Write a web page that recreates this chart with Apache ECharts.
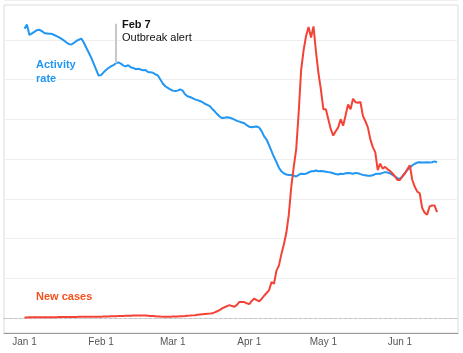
<!DOCTYPE html>
<html>
<head>
<meta charset="utf-8" />
<title>Activity rate and new cases</title>
<script src="https://cdn.jsdelivr.net/npm/echarts@6.0.0/dist/echarts.min.js"></script>
<style>
  html, body { margin: 0; padding: 0; background: #fff; }
  #chart { width: 463px; height: 353px; }
</style>
</head>
<body>
<div id="chart"></div>
<script type="text/javascript">
// day 0 = Jan 1 (2020), one value per day up to Jun 16
var tickDays = [0, 31, 60, 91, 121, 152];
var tickLabels = ['Jan 1', 'Feb 1', 'Mar 1', 'Apr 1', 'May 1', 'Jun 1'];

// activity rate (index)
var activity = [
  72.8, 73.8, 71.2, 71.6, 72.0, 72.4, 72.5, 72.2, 71.7, 71.6,
  71.5, 71.5, 71.2, 70.9, 70.6, 70.2, 69.8, 69.3, 68.9, 68.8,
  69.2, 69.7, 70.0, 70.3, 69.3, 68.0, 66.8, 65.5, 64.0, 62.5,
  61.0, 61.1, 61.8, 62.4, 62.9, 63.3, 63.6, 64.1, 64.3, 64.0,
  63.5, 63.3, 63.6, 63.1, 62.9, 62.6, 62.7, 62.5, 62.3, 62.4,
  61.9, 61.8, 61.7, 61.3, 61.0, 60.0, 59.0, 58.3, 57.9, 57.5,
  57.2, 57.1, 57.2, 57.5, 57.2, 56.3, 55.8, 55.6, 55.3, 55.0,
  54.8, 54.6, 54.3, 53.9, 53.6, 53.3, 52.6, 52.0, 51.3, 50.7,
  50.3, 50.4, 50.5, 50.4, 50.2, 49.9, 49.6, 49.4, 49.2, 49.0,
  48.5, 48.1, 48.0, 48.1, 48.2, 47.9, 47.0, 45.7, 44.9, 43.5,
  42.0, 40.5, 39.2, 37.8, 36.9, 36.4, 36.1, 36.0, 36.0, 35.8,
  35.6, 36.0, 36.3, 36.2, 36.3, 36.6, 36.9, 36.9, 37.1, 36.9,
  37.0, 36.9, 36.8, 36.7, 36.6, 36.4, 36.2, 36.1, 36.3, 36.2,
  36.4, 36.5, 36.4, 36.3, 36.5, 36.4, 36.2, 36.0, 35.9, 35.8,
  35.8, 35.9, 36.2, 36.3, 36.3, 36.5, 36.7, 36.6, 36.4, 36.0,
  35.6, 35.2, 35.0, 35.7, 36.5, 37.2, 37.8, 38.4, 38.8, 39.1,
  39.2, 39.1, 39.1, 39.2, 39.1, 39.2, 39.4, 39.2
];

// new cases per day
var newCases = [
  15, 15, 16, 16, 17, 17, 18, 18, 19, 19,
  20, 21, 22, 22, 23, 24, 25, 25, 26, 27,
  28, 28, 29, 30, 30, 31, 31, 32, 32, 33,
  33, 34, 36, 38, 40, 42, 44, 46, 48, 50,
  52, 54, 56, 58, 60, 62, 64, 66, 64, 60,
  56, 52, 48, 44, 40, 36, 34, 32, 32, 33,
  35, 37, 40, 43, 46, 50, 55, 60, 66, 72,
  80, 88, 95, 100, 105, 110, 117, 140, 170, 200,
  241, 270, 300, 323, 300, 281, 330, 405, 405, 400,
  370, 348, 430, 489, 450, 422, 480, 560, 629, 696,
  902, 862, 1193, 1317, 1607, 1850, 2144, 2600, 3300, 3800,
  4250, 5168, 6244, 6740, 7100, 7322, 7056, 7337, 6700, 6161,
  5747, 5250, 5250, 5000, 4750, 4589, 4700, 4795, 5001, 4837,
  5100, 5374, 5250, 5516, 5430, 5416, 5433, 5086, 4950, 4795,
  4500, 4298, 4174, 3719, 3883, 3759, 3801, 3740, 3700, 3635,
  3560, 3471, 3471, 3560, 3635, 3740, 3843, 3471, 3300, 3180,
  3138, 2765, 2650, 2601, 2807, 2830, 2832, 2666
];

// annotation
var alertDay = 37;
var alertTitle = 'Feb 7';
var alertText = 'Outbreak alert';

var blue = '#2196f3';
var red = '#f44336';
var font = '"Liberation Sans", Arial, sans-serif';

var activityData = activity.map(function(v, i) { return [i, v]; });
var casesData = newCases.map(function(v, i) { return [i, v]; });

// text label with a white box behind it, so grid lines stop at the text
function label(x, y, text, color, weight) {
    return {
        type: 'text', x: x, y: y, z: 10,
        style: {
            text: text, fill: color, font: weight + ' 11px ' + font,
            verticalAlign: 'middle', backgroundColor: '#fff', padding: [0, 1]
        }
    };
}

var myChart = echarts.init(document.getElementById('chart'));

myChart.setOption({
    animation: false,
    grid: [
        // frame + date axis
        { left: 4, right: 5, top: 5, bottom: 20, show: true, borderColor: '#dcdcdc', borderWidth: 1 },
        // plot area for the lines (zero at y=318)
        { left: 4, right: 5, top: -4, bottom: 35 }
    ],
    xAxis: [{
        type: 'value',
        gridIndex: 0,
        min: -8.3,
        max: 175.5,
        axisLine: { lineStyle: { color: '#999', width: 1 } },
        axisTick: { show: false },
        splitLine: { show: false },
        axisLabel: {
            customValues: tickDays,
            color: '#555',
            fontSize: 10,
            fontFamily: font,
            margin: 4,
            formatter: function(v) {
                return tickLabels[tickDays.indexOf(v)];
            }
        }
    }, {
        type: 'value',
        gridIndex: 1,
        min: -8.3,
        max: 175.5,
        z: 3,
        axisLine: { show: true, lineStyle: { color: '#c4c4c4', type: [3, 2], width: 1 } },
        axisTick: { show: false },
        axisLabel: { show: false },
        splitLine: { show: false }
    }],
    yAxis: [{
        type: 'value',
        gridIndex: 0,
        min: 0,
        max: 1,
        show: false
    }, {
        type: 'value',
        gridIndex: 1,
        min: 0,
        max: 8000,
        interval: 1000,
        axisLine: { show: false },
        axisTick: { show: false },
        axisLabel: { show: false },
        splitLine: { lineStyle: { color: '#efefef', width: 1 } }
    }, {
        type: 'value',
        gridIndex: 1,
        min: 0,
        max: 80,
        show: false
    }],
    graphic: [
        label(35, 65, 'Activity', blue, 'bold'),
        label(35, 78.5, 'rate', blue, 'bold'),
        label(35, 297, 'New cases', '#f4511e', 'bold'),
        label(121, 25, alertTitle, '#111', 'bold'),
        label(121, 37.5, alertText, '#111', 'normal')
    ],
    series: [{
        name: 'Activity rate',
        type: 'line',
        xAxisIndex: 1,
        yAxisIndex: 2,
        showSymbol: false,
        symbol: 'none',
        lineStyle: { color: blue, width: 2 },
        itemStyle: { color: blue },
        data: activityData,
        markLine: {
            silent: true,
            symbol: 'none',
            label: { show: false },
            lineStyle: { color: '#c8c8c8', width: 2, type: 'solid' },
            data: [[{ coord: [alertDay, activity[alertDay]] }, { coord: [alertDay, 74] }]]
        }
    }, {
        name: 'New cases',
        type: 'line',
        xAxisIndex: 1,
        yAxisIndex: 1,
        showSymbol: false,
        symbol: 'none',
        lineStyle: { color: red, width: 2 },
        itemStyle: { color: red },
        data: casesData
    }]
});
</script>
</body>
</html>
